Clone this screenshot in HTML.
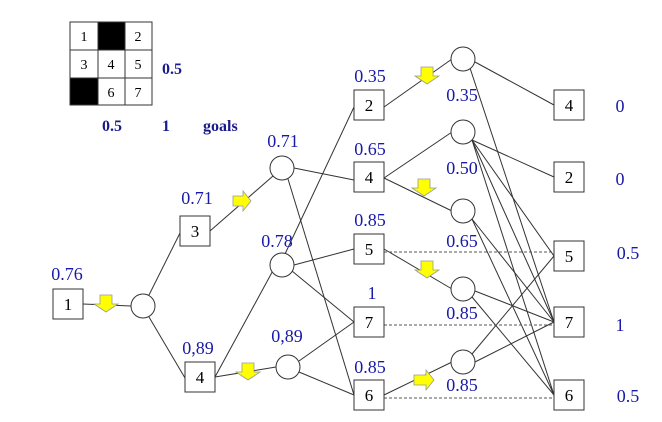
<!DOCTYPE html>
<html><head><style>body{margin:0;background:#fff}svg{display:block}text{font-family:"Liberation Serif",serif}</style></head><body>
<svg width="662" height="422" xmlns="http://www.w3.org/2000/svg">
<g fill="none" stroke="#333" stroke-width="1">
<line x1="83" y1="304" x2="131" y2="306"/>
<line x1="149" y1="295" x2="180" y2="233"/>
<line x1="149" y1="317" x2="185" y2="378"/>
<line x1="210" y1="231" x2="273" y2="176"/>
<line x1="215" y1="377" x2="276" y2="265"/>
<line x1="215" y1="377" x2="276" y2="367"/>
<line x1="294" y1="168" x2="354" y2="180"/>
<line x1="288" y1="179" x2="354" y2="395"/>
<line x1="285" y1="254" x2="354" y2="107"/>
<line x1="294" y1="265" x2="354" y2="249"/>
<line x1="292" y1="271" x2="354" y2="322"/>
<line x1="299" y1="361" x2="354" y2="322"/>
<line x1="299" y1="372" x2="354" y2="395"/>
<line x1="384" y1="107" x2="452" y2="59"/>
<line x1="384" y1="178" x2="452" y2="132"/>
<line x1="384" y1="178" x2="452" y2="211"/>
<line x1="384" y1="249" x2="452" y2="289"/>
<line x1="384" y1="395" x2="452" y2="362"/>
<line x1="475" y1="62" x2="554" y2="105"/>
<line x1="470" y1="68" x2="554" y2="322"/>
<line x1="472" y1="140" x2="554" y2="177"/>
<line x1="472" y1="140" x2="554" y2="256"/>
<line x1="472" y1="140" x2="554" y2="322"/>
<line x1="472" y1="140" x2="554" y2="395"/>
<line x1="472" y1="219" x2="554" y2="322"/>
<line x1="472" y1="219" x2="554" y2="395"/>
<line x1="475" y1="291" x2="554" y2="322"/>
<line x1="472" y1="297" x2="554" y2="395"/>
<line x1="472" y1="354" x2="554" y2="256"/>
<line x1="475" y1="362" x2="554" y2="322"/>
</g>
<g stroke="#555" stroke-dasharray="3,2">
<line x1="384" y1="252" x2="554" y2="252"/>
<line x1="384" y1="325" x2="554" y2="325"/>
<line x1="384" y1="398" x2="554" y2="398"/>
</g>
<g fill="#fff" stroke="#333">
<rect x="53" y="289" width="30" height="30"/>
<rect x="180" y="216" width="30" height="30"/>
<rect x="185" y="362" width="30" height="30"/>
<rect x="354" y="90" width="30" height="30"/>
<rect x="354" y="162" width="30" height="30"/>
<rect x="354" y="234" width="30" height="30"/>
<rect x="354" y="307" width="30" height="30"/>
<rect x="354" y="380" width="30" height="30"/>
<rect x="554" y="90" width="30" height="30"/>
<rect x="554" y="162" width="30" height="30"/>
<rect x="554" y="241" width="30" height="30"/>
<rect x="554" y="307" width="30" height="30"/>
<rect x="554" y="380" width="30" height="30"/>
<circle cx="143" cy="306" r="12"/>
<circle cx="282" cy="168" r="12"/>
<circle cx="282" cy="265" r="12"/>
<circle cx="288" cy="367" r="12"/>
<circle cx="463" cy="59" r="12"/>
<circle cx="463" cy="132" r="12"/>
<circle cx="463" cy="211" r="12"/>
<circle cx="463" cy="289" r="12"/>
<circle cx="463" cy="362" r="12"/>
</g>
<g font-size="17" text-anchor="middle" fill="#000">
<text x="68" y="310">1</text><text x="195" y="237">3</text><text x="200" y="383">4</text>
<text x="369" y="111">2</text><text x="369" y="183">4</text><text x="369" y="255">5</text><text x="369" y="328">7</text><text x="369" y="401">6</text>
<text x="569" y="111">4</text><text x="569" y="183">2</text><text x="569" y="262">5</text><text x="569" y="328">7</text><text x="569" y="401">6</text>
</g>
<g fill="#ffff00" stroke="#999" stroke-width="0.8">
<path d="M100,295h12v9h6l-12,8l-12,-8h6z"/>
<path d="M421,67h12v9h6l-12,8l-12,-8h6z"/>
<path d="M418,179h12v9h6l-12,8l-12,-8h6z"/>
<path d="M421,261h12v9h6l-12,8l-12,-8h6z"/>
<path d="M242,363h12v9h6l-12,8l-12,-8h6z"/>
<path d="M233,196h10v-5l8,10l-8,10v-5h-10z"/>
<path d="M414,375h12v-5l8,10l-8,10v-5h-12z"/>
</g>
<g font-size="18" text-anchor="middle" fill="#1a1aa8">
<text x="67" y="280">0.76</text><text x="197" y="204">0.71</text><text x="198" y="354">0,89</text>
<text x="283" y="147">0.71</text><text x="277" y="247">0.78</text><text x="287" y="342">0,89</text>
<text x="370" y="82">0.35</text><text x="370" y="155">0.65</text><text x="370" y="226">0.85</text><text x="372" y="299">1</text><text x="370" y="373">0.85</text>
<text x="462" y="101">0.35</text><text x="462" y="174">0.50</text><text x="462" y="247">0.65</text><text x="462" y="319">0.85</text><text x="462" y="391">0.85</text>
<text x="620" y="112">0</text><text x="620" y="185">0</text><text x="628" y="259">0.5</text><text x="620" y="331">1</text><text x="628" y="402">0.5</text>
</g>
<g stroke="#333" fill="#fff">
<rect x="70" y="22" width="82" height="83"/>
<rect x="98" y="22" width="27" height="28" fill="#000"/>
<rect x="70" y="78" width="28" height="27" fill="#000"/>
<line x1="98" y1="22" x2="98" y2="105"/><line x1="125" y1="22" x2="125" y2="105"/>
<line x1="70" y1="50" x2="152" y2="50"/><line x1="70" y1="78" x2="152" y2="78"/>
</g>
<g font-size="14" text-anchor="middle" fill="#000">
<text x="84" y="41">1</text><text x="138" y="41">2</text><text x="84" y="69">3</text><text x="111" y="69">4</text><text x="138" y="69">5</text><text x="111" y="97">6</text><text x="138" y="97">7</text>
</g>
<g font-size="16" font-weight="bold" fill="#1a1a8c">
<text x="162" y="74">0.5</text><text x="102" y="131">0.5</text><text x="162" y="131">1</text><text x="203" y="131">goals</text>
</g>
</svg>
</body></html>
